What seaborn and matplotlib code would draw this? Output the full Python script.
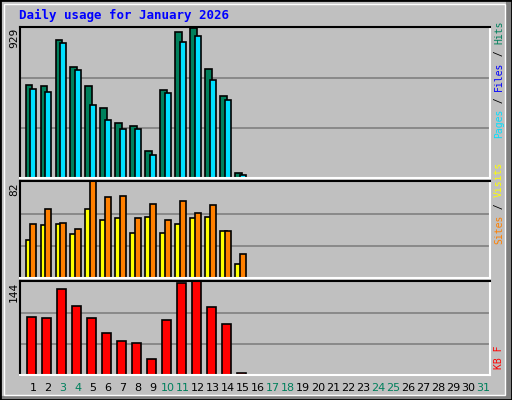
import matplotlib
matplotlib.use("Agg")
import matplotlib.pyplot as plt
import seaborn as sns
import numpy as np
from matplotlib.patches import Rectangle

days = list(range(1, 32))
data_days = list(range(1, 16))
hits = [576, 570, 853, 689, 570, 431, 343, 324, 166, 544, 904, 929, 677, 507, 34]
files = [551, 532, 834, 670, 450, 361, 305, 305, 141, 525, 841, 879, 607, 481, 21]
visits = [46, 59, 47, 42, 82, 69, 70, 51, 63, 49, 65, 55, 62, 40, 20]
sites = [32, 45, 46, 37, 59, 49, 51, 38, 52, 38, 46, 51, 52, 40, 12]
kbytes = [90, 87, 133, 106, 87, 65, 52, 49, 24, 85, 141, 144, 104, 78, 3]
weekend_days = [3, 4, 10, 11, 17, 18, 24, 25, 31]

sns.set_style("white")
plt.rcParams['font.family'] = ['DejaVu Sans Mono', 'DejaVu Sans']

W, H = 512, 400
fig = plt.figure(figsize=(W/100, H/100), dpi=100)
fig.patch.set_facecolor('#C0C0C0')

def fx(x): return x / W
def fy(y): return 1 - y / H

# bevel frame
fig.patches.append(Rectangle((fx(506), 0), fx(6), 1, transform=fig.transFigure, fc='#808080', ec='none'))
fig.patches.append(Rectangle((0, 0), 1, 4/H, transform=fig.transFigure, fc='#808080', ec='none'))
fig.patches.append(Rectangle((fx(4), fy(395)), fx(501), fy(4)-fy(395), transform=fig.transFigure, fill=False, ec='white', lw=1))
fig.patches.append(Rectangle((0, 0), 1, 1, transform=fig.transFigure, fill=False, ec='black', lw=2))

X0, X1 = 20, 490
xl = (0.133, 31.47)

def make_ax(ytop, ybot, vmax):
    ax = fig.add_axes([fx(X0), fy(ybot), fx(X1 - X0), fy(ytop) - fy(ybot)])
    ax.set_facecolor('#C0C0C0')
    ax.set_xlim(*xl)
    ax.set_ylim(0, vmax * 1.005)
    for v in (vmax / 3, 2 * vmax / 3):
        ax.axhline(v, color='#808080', lw=1.2, zorder=0)
    ax.set_xticks([]); ax.set_yticks([])
    for s in ('top', 'left'):
        ax.spines[s].set_color('black'); ax.spines[s].set_linewidth(1.5)
    for s in ('bottom', 'right'):
        ax.spines[s].set_color('white'); ax.spines[s].set_linewidth(1.5)
    return ax

def bars(ax, offset, vals, color, width):
    sns.barplot(x=[d + offset for d in data_days], y=vals, native_scale=True,
                width=width, color=color, edgecolor='black', linewidth=1.2,
                saturation=1, ax=ax, zorder=2)
    ax.set_xlim(*xl)
    ax.set_xticks([]); ax.set_yticks([])
    ax.set_xlabel(''); ax.set_ylabel('')

ax1 = make_ax(27, 178, 929)
bars(ax1, -0.27, hits, '#00805C', 0.46)
bars(ax1, 0.0, files, '#00E0FF', 0.46)

ax2 = make_ax(181, 278, 82)
bars(ax2, -0.27, sites, '#FFFF00', 0.46)
bars(ax2, 0.0, visits, '#FF8000', 0.46)

ax3 = make_ax(281, 375, 144)
bars(ax3, -0.13, kbytes, '#FF0000', 0.6)

fig.text(fx(19), fy(15), 'Daily usage for January 2026', color='#0000FF',
         fontsize=9, fontweight='bold', va='center', ha='left')

for txt, ytop in (('929', 28), ('82', 182), ('144', 282)):
    fig.text(fx(14), fy(ytop), txt, rotation=90, fontsize=8, ha='center', va='top', color='black')

def right_label(parts, ybottom, size=7):
    cw = size * 0.602 * 100 / 72
    y = ybottom
    for t, c in parts:
        fig.text(fx(499), fy(y), t, rotation=90, fontsize=size, color=c, ha='center', va='bottom')
        y -= cw * len(t)

right_label([('Pages', '#00E0FF'), (' / ', 'black'), ('Files', '#0000FF'), (' / ', 'black'), ('Hits', '#00805C')], 138)
right_label([('Sites', '#FF8000'), (' / ', 'black'), ('Visits', '#FFFF00')], 244)
right_label([('KB F', '#FF0000')], 369)

for d in days:
    c = '#00805C' if d in weekend_days else 'black'
    xpix = X0 + (d - xl[0]) / (xl[1] - xl[0]) * (X1 - X0)
    fig.text(fx(xpix), fy(388), str(d), color=c, fontsize=8, ha='center', va='center',
             family=['DejaVu Sans', 'DejaVu Sans Mono'])

fig.savefig('out.png', dpi=100, facecolor=fig.get_facecolor())
